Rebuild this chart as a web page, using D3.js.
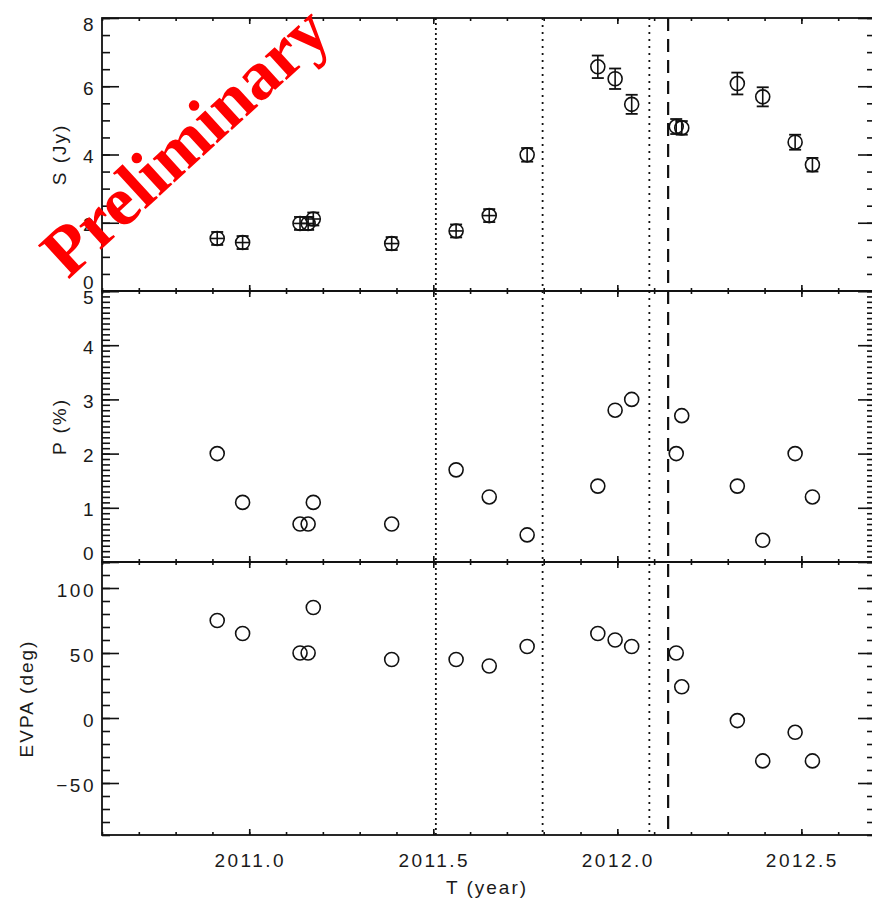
<!DOCTYPE html>
<html>
<head>
<meta charset="utf-8">
<script src="https://cdn.jsdelivr.net/npm/d3@7"></script>
<style>
  html, body { margin: 0; padding: 0; background: #fff; }
  svg { display: block; }
  .tick-label { font-family: "Liberation Sans", "DejaVu Sans", sans-serif; font-size: 19px; fill: #1a1a1a; letter-spacing: 2.5px; }
  .axis-title { font-family: "Liberation Sans", "DejaVu Sans", sans-serif; font-size: 19px; fill: #1a1a1a; letter-spacing: 2px; }
</style>
</head>
<body>
<svg id="chart" width="872" height="900"></svg>
<script>
// Epochs of the observations (decimal year) and their time uncertainty
const epochs = [2010.913, 2010.982, 2011.138, 2011.160, 2011.174, 2011.387, 2011.562, 2011.652, 2011.755,
                2011.947, 2011.994, 2012.039, 2012.160, 2012.175, 2012.326, 2012.395, 2012.483, 2012.530];
const epochError = [0.018, 0.018, 0.018, 0.018, 0.018, 0.018, 0.018, 0.018, 0,
                    0, 0, 0, 0, 0, 0, 0, 0, 0];
// Total flux density S (Jy) and its uncertainty
const fluxDensity = [1.54, 1.42, 1.98, 1.98, 2.11, 1.39, 1.76, 2.21, 3.99,
                     6.57, 6.22, 5.47, 4.82, 4.78, 6.08, 5.69, 4.36, 3.70];
const fluxError = [0.19, 0.19, 0.19, 0.19, 0.19, 0.19, 0.19, 0.19, 0.20,
                   0.33, 0.30, 0.28, 0.22, 0.20, 0.32, 0.28, 0.22, 0.20];
// Degree of linear polarization p (%)
const polDegree = [2.0, 1.1, 0.7, 0.7, 1.1, 0.7, 1.7, 1.2, 0.5,
                   1.4, 2.8, 3.0, 2.0, 2.7, 1.4, 0.4, 2.0, 1.2];
// Electric vector position angle (deg)
const evpa = [75, 65, 50, 50, 85, 45, 45, 40, 55,
              65, 60, 55, 50, 24, -2, -33, -11, -33];

// Event markers: dotted lines and one dashed line
const dottedEpochs = [2011.507, 2011.797, 2012.087];
const dashedEpochs = [2012.138];

// Axis ticks and labels
const yearTicks = [2011.0, 2011.5, 2012.0, 2012.5];
const yearTickLabels = ["2011.0", "2011.5", "2012.0", "2012.5"];
const fluxTicks = [0, 2, 4, 6, 8];
const polTicks = [0, 1, 2, 3, 4, 5];
const evpaTicks = [-50, 0, 50, 100];
const evpaTickLabels = ["\u221250", "0", "50", "100"];

const svg = d3.select("#chart");
const plotLeft = 102, plotRight = 875;
const x = d3.scaleLinear().domain([2010.6, 2012.7]).range([plotLeft, plotRight]);

const panels = [
  { top: 18,  bottom: 291, domain: [0, 8],     step: 0.5, ticks: fluxTicks, labels: fluxTicks.map(String), title: "S (Jy)", titleX: 59 },
  { top: 291, bottom: 562, domain: [0, 5],     step: 0.1, ticks: polTicks,  labels: polTicks.map(String),  title: "P (%)", titleX: 59 },
  { top: 562, bottom: 835, domain: [-90, 120], step: 10,  ticks: evpaTicks, labels: evpaTickLabels,       title: "EVPA (deg)", titleX: 26 }
];
panels.forEach(p => { p.y = d3.scaleLinear().domain(p.domain).range([p.bottom, p.top]); });

const xMinor = d3.range(2010.6, 2012.70001, 0.1).map(v => +v.toFixed(1));
const ink = "#111";

function styleAxis(g) {
  g.select(".domain").remove();
  g.selectAll(".tick line").attr("stroke", ink).attr("stroke-width", 1.6);
  g.selectAll(".tick text").remove();
}

panels.forEach(p => {
  const [d0, d1] = p.domain;
  const yMinor = d3.range(d0, d1 + p.step / 2, p.step).map(v => +v.toFixed(2));
  const g = svg.append("g");

  // left axis ticks (inward)
  g.append("g").attr("transform", `translate(${plotLeft},0)`)
    .call(d3.axisRight(p.y).tickValues(yMinor).tickSize(8)).call(styleAxis);
  g.append("g").attr("transform", `translate(${plotLeft},0)`)
    .call(d3.axisRight(p.y).tickValues(p.ticks).tickSize(17)).call(styleAxis);
  // right axis ticks (inward)
  g.append("g").attr("transform", `translate(${plotRight},0)`)
    .call(d3.axisLeft(p.y).tickValues(yMinor).tickSize(8)).call(styleAxis);
  g.append("g").attr("transform", `translate(${plotRight},0)`)
    .call(d3.axisLeft(p.y).tickValues(p.ticks).tickSize(17)).call(styleAxis);
  // top and bottom ticks (inward)
  g.append("g").attr("transform", `translate(0,${p.top})`)
    .call(d3.axisBottom(x).tickValues(xMinor).tickSize(3)).call(styleAxis);
  g.append("g").attr("transform", `translate(0,${p.top})`)
    .call(d3.axisBottom(x).tickValues(yearTicks).tickSize(6)).call(styleAxis);
  g.append("g").attr("transform", `translate(0,${p.bottom})`)
    .call(d3.axisTop(x).tickValues(xMinor).tickSize(3)).call(styleAxis);
  g.append("g").attr("transform", `translate(0,${p.bottom})`)
    .call(d3.axisTop(x).tickValues(yearTicks).tickSize(6)).call(styleAxis);

  // frame
  g.append("rect").attr("x", plotLeft).attr("y", p.top)
    .attr("width", plotRight - plotLeft).attr("height", p.bottom - p.top)
    .attr("fill", "none").attr("stroke", ink).attr("stroke-width", 1.8);

  // y tick labels (end labels nudged inside the panel)
  g.selectAll("text.yl").data(p.ticks).join("text")
    .attr("class", "tick-label")
    .attr("x", 96)
    .attr("y", v => Math.min(Math.max(p.y(v) + 2, p.top + 6), p.bottom - 9))
    .attr("text-anchor", "end")
    .attr("dominant-baseline", "central")
    .text((v, j) => p.labels[j]);

  // axis title
  g.append("text").attr("class", "axis-title")
    .attr("transform", `translate(${p.titleX},${(p.top + p.bottom) / 2}) rotate(-90)`)
    .attr("text-anchor", "middle").attr("dominant-baseline", "central")
    .text(p.title);
});

// bottom x tick labels and title
svg.selectAll("text.xl").data(yearTicks).join("text")
  .attr("class", "tick-label")
  .attr("x", d => x(d) + 1)
  .attr("y", 860)
  .attr("text-anchor", "middle")
  .attr("dominant-baseline", "central")
  .text((d, i) => yearTickLabels[i]);
svg.append("text").attr("class", "axis-title")
  .attr("x", 487).attr("y", 887)
  .attr("text-anchor", "middle").attr("dominant-baseline", "central")
  .text("T (year)");

// event lines through all panels
const linesTop = panels[0].top, linesBottom = panels[2].bottom;
svg.selectAll("line.dotted").data(dottedEpochs).join("line")
  .attr("x1", d => x(d)).attr("x2", d => x(d))
  .attr("y1", linesTop).attr("y2", linesBottom)
  .attr("stroke", ink).attr("stroke-width", 1.8)
  .attr("stroke-dasharray", (d, i) => i === 0 ? "2,3" : "2,5");
svg.selectAll("line.dashed").data(dashedEpochs).join("line")
  .attr("x1", d => x(d)).attr("x2", d => x(d))
  .attr("y1", linesTop).attr("y2", linesBottom)
  .attr("stroke", ink).attr("stroke-width", 2.2)
  .attr("stroke-dasharray", "13,8");

const r = 7;
const [pS, pP, pE] = panels;

// flux density: circles with error bars
const sG = svg.append("g");
epochs.forEach((t, i) => {
  const cx = x(t), cy = pS.y(fluxDensity[i]);
  const lo = pS.y(fluxDensity[i] - fluxError[i]), hi = pS.y(fluxDensity[i] + fluxError[i]);
  sG.append("line").attr("x1", cx).attr("x2", cx).attr("y1", lo).attr("y2", hi)
    .attr("stroke", ink).attr("stroke-width", 1.6);
  [lo, hi].forEach(yy => sG.append("line").attr("x1", cx - 6).attr("x2", cx + 6)
    .attr("y1", yy).attr("y2", yy).attr("stroke", ink).attr("stroke-width", 1.8));
  if (epochError[i] > 0) {
    sG.append("line").attr("x1", x(t - epochError[i])).attr("x2", x(t + epochError[i]))
      .attr("y1", cy).attr("y2", cy).attr("stroke", ink).attr("stroke-width", 1.6);
  }
});
sG.selectAll("circle").data(epochs).join("circle")
  .attr("cx", d => x(d)).attr("cy", (d, i) => pS.y(fluxDensity[i])).attr("r", r)
  .attr("fill", "none").attr("stroke", ink).attr("stroke-width", 1.6);

// polarization degree
svg.append("g").selectAll("circle").data(epochs).join("circle")
  .attr("cx", d => x(d)).attr("cy", (d, i) => pP.y(polDegree[i])).attr("r", r)
  .attr("fill", "none").attr("stroke", ink).attr("stroke-width", 1.6);

// EVPA
svg.append("g").selectAll("circle").data(epochs).join("circle")
  .attr("cx", d => x(d)).attr("cy", (d, i) => pE.y(evpa[i])).attr("r", r)
  .attr("fill", "none").attr("stroke", ink).attr("stroke-width", 1.6);

// watermark
svg.append("text")
  .attr("transform", "translate(68,280) rotate(-42.5)")
  .attr("font-family", "'Liberation Serif', 'Times New Roman', serif")
  .attr("font-weight", "bold")
  .attr("font-size", 70)
  .attr("fill", "#ff0000")
  .text("Preliminary");
</script>
</body>
</html>
